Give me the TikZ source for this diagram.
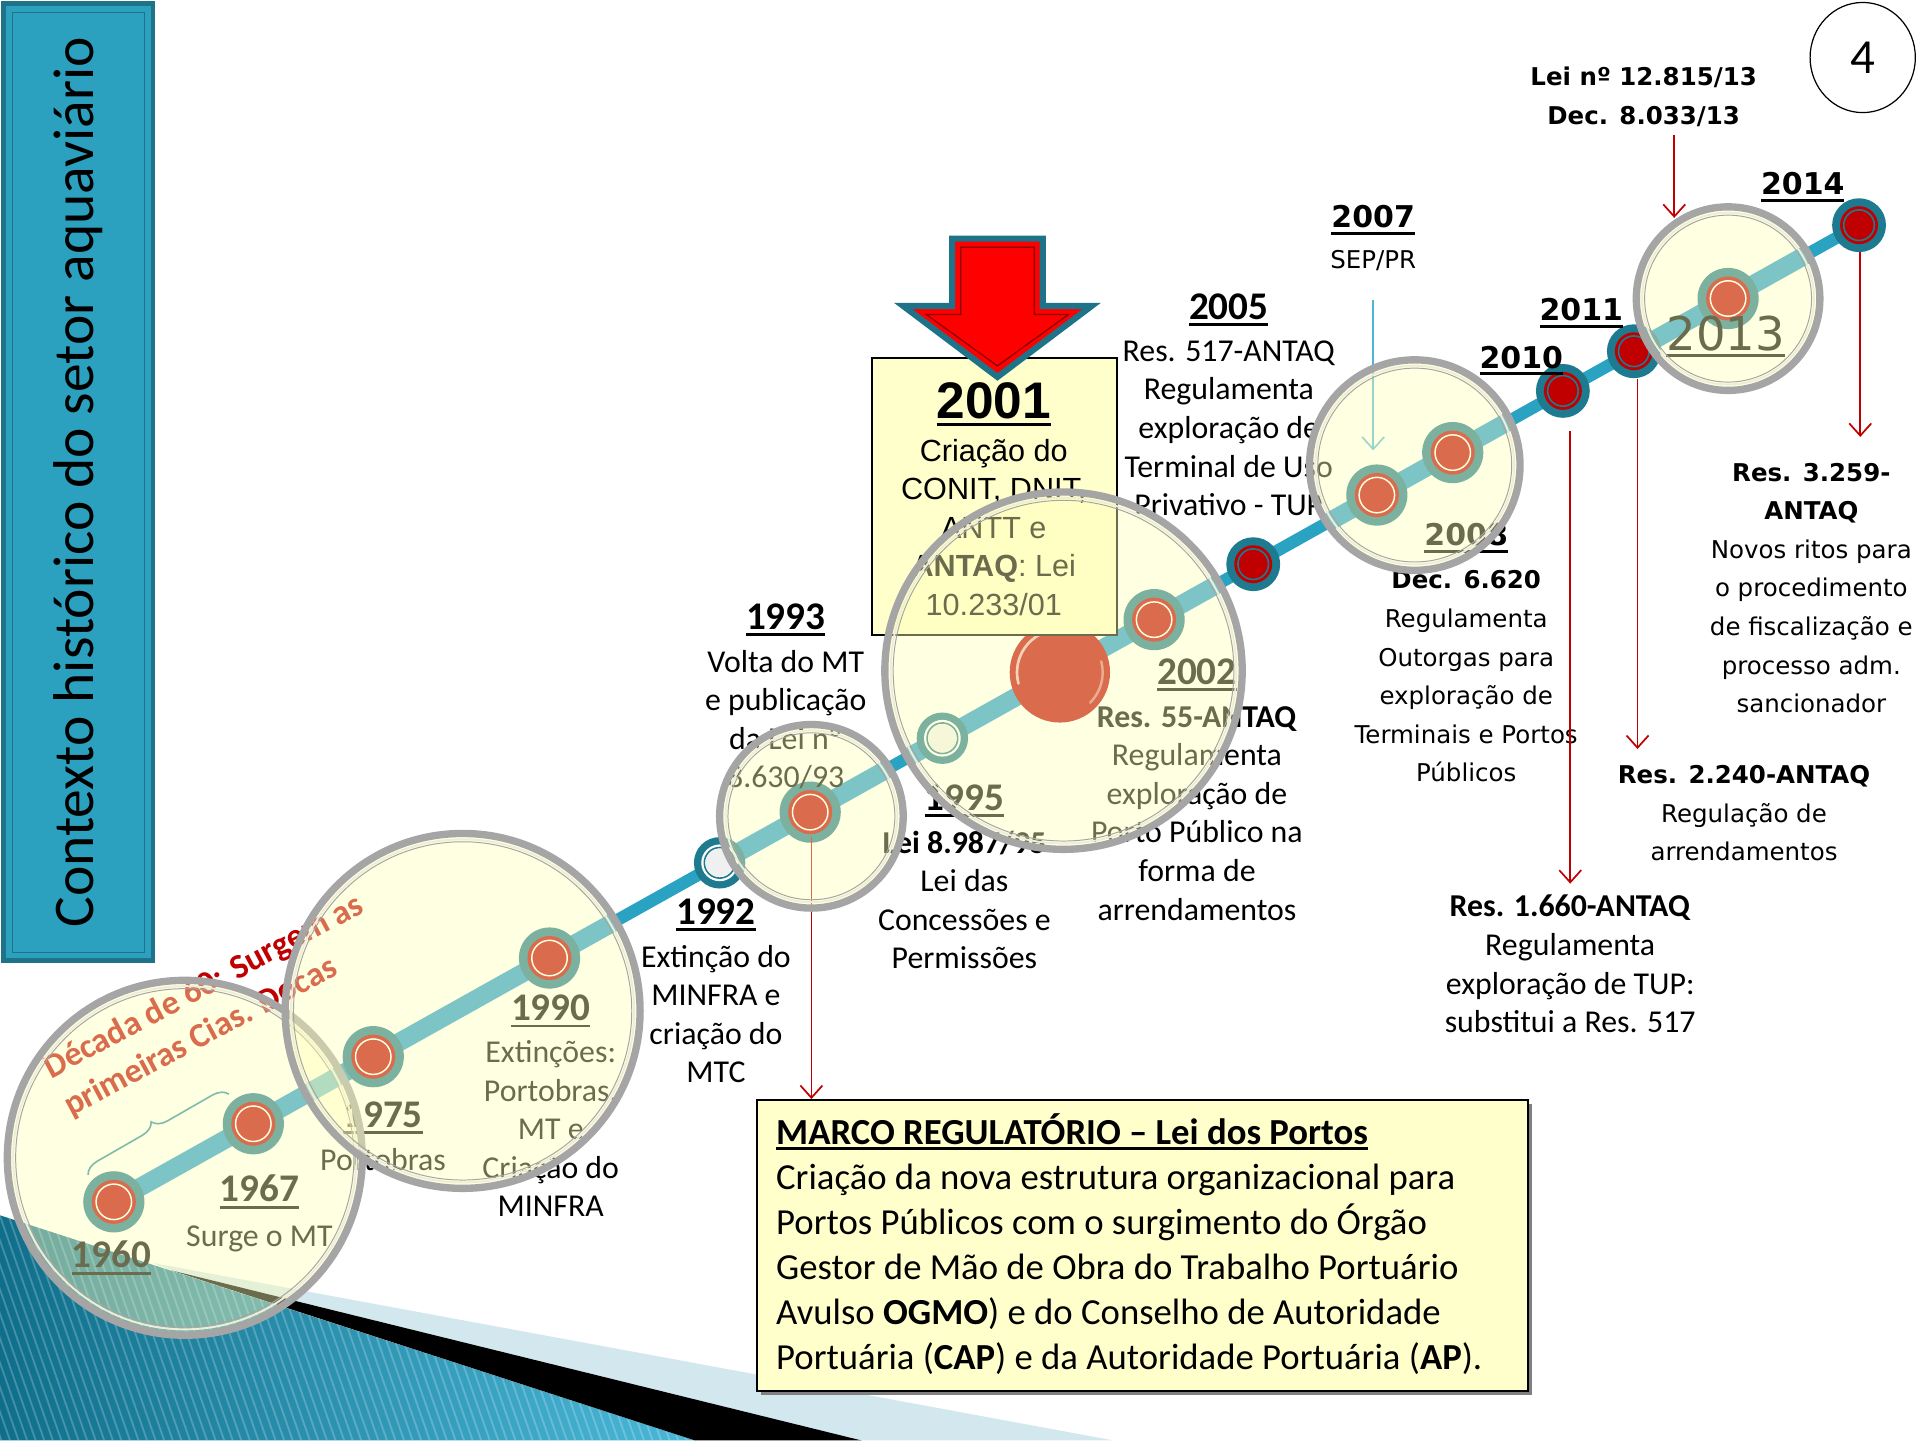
\documentclass[tikz,border=0pt]{standalone}
\usepackage{fontspec}
\setmainfont{Carlito}
\newfontfamily\arialf{Liberation Sans}
\newfontfamily\verd{DejaVu Sans}
\usetikzlibrary{arrows.meta,decorations.pathreplacing,shapes.geometric}
\definecolor{teal1}{HTML}{2AA3C2}
\definecolor{teallens}{HTML}{1E9AD0}
\definecolor{tealdk}{HTML}{1E7A8E}
\definecolor{dred}{HTML}{C00000}
\definecolor{lensfill}{HTML}{FFFFB8}
\definecolor{lensring}{HTML}{A5A5A5}
\definecolor{lensin}{HTML}{EEEED8}
\definecolor{boxy}{HTML}{FFFFCC}
\definecolor{titlebg}{HTML}{2BA0BF}
\definecolor{titlebd}{HTML}{1F7389}
\definecolor{pale}{HTML}{D3E7EE}
\definecolor{arrowblue}{HTML}{4DB6D6}
\definecolor{bandL}{HTML}{0F6F8B}
\definecolor{bandR}{HTML}{4BB8D8}
\newcommand\uln[2][3]{\vtop{\hbox{#2}\kern#1pt\hrule height 2.3pt}}
\newcommand\drawlens[2]{%
  \fill[lensfill,fill opacity=0.42] (#1) circle (#2);
  \draw[lensring,line width=6] (#1) circle (#2);
  \draw[lensin,line width=1.6] (#1) circle ({#2-4.8});
  \draw[lensring,line width=0.8] (#1) circle ({#2-6.8});
}
\newcommand\lensline[2]{%
  \begin{scope}\clip (#1) circle (#2);
  \draw[teallens,line width=15] (d1960) -- (d2014);
  \end{scope}
}
\tikzset{
  tdot/.pic={\fill[tealdk] (0,0) circle (22); \fill[dred] (0,0) circle (15.5); \draw[tealdk,line width=1.3] (0,0) circle (12.5);},
  mdot/.pic={\fill[tealdk] (0,0) circle (25); \fill[dred] (0,0) circle (18); \draw[white,line width=1.2] (0,0) circle (14.5);},
  wdot/.pic={\fill[tealdk] (0,0) circle (21); \fill[white] (0,0) circle (15); \draw[tealdk,line width=1.3] (0,0) circle (12.5); \fill[black!6] (0,0) circle (11.5);},
}
\begin{document}
\begin{tikzpicture}[x=1pt,y=-1pt,
  calt/.style={inner sep=0, align=center, anchor=north, font=\fontsize{26}{31.5}\selectfont},
  vert/.style={inner sep=0, align=center, anchor=north, font=\verd\fontsize{20}{31.5}\selectfont},
  arlt/.style={inner sep=0, align=center, anchor=north, font=\arialf\fontsize{25}{31.5}\selectfont},
  yc/.style={inner sep=0, anchor=base, font=\fontsize{32}{38}\selectfont\bfseries},
  yv/.style={inner sep=0, anchor=base, font=\verd\fontsize{24.5}{30}\selectfont\bfseries},
  redarr/.style={draw=dred, line width=1.4, -{Straight Barb[length=10pt,width=18pt]}},
  bluearr/.style={draw=arrowblue, line width=1.3, -{Straight Barb[length=10pt,width=18pt]}},
]
\useasboundingbox (0,0) rectangle (1568,1177);
\fill[white] (0,0) rectangle (1568,1177);

% ---- bottom decoration
\fill[pale] (125,1032) -- (910,1177) -- (704,1177) -- (140,1038) -- cycle;
\shade[left color=bandL, right color=bandR] (0,993) -- (568,1177) -- (0,1177) -- cycle;
\begin{scope}
  \clip (0,993) -- (568,1177) -- (0,1177) -- cycle;
  \foreach \k in {0,...,95} \draw[white, opacity=0.22, line width=1.5] ({\k*7-80},985) -- ++(70,200);
\end{scope}
\fill[black] (140,1038) -- (704,1177) -- (568,1177) -- cycle;

% ---- title
\node[draw=titlebd, line width=4, fill=titlebg, minimum width=782, minimum height=122, rotate=90, inner sep=0,
      font=\fontsize{47}{56}\selectfont] (title) at (64,394) {Contexto histórico do setor aquaviário};
\draw[titlebd, line width=1] (10,10) rectangle (118,778);

% ---- page number
\node[draw, ellipse, line width=1, minimum width=86, minimum height=90, inner sep=0,
      font=\fontsize{40}{48}\selectfont] (pg) at (1522,47) {4};

% ---- timeline coordinates
\coordinate (d1960) at (93,982);
\coordinate (d1967) at (207,918.2);
\coordinate (d1975) at (305,863.4);
\coordinate (d1990) at (449,782.8);
\coordinate (d1992) at (588,705);
\coordinate (d1993) at (662,663.6);
\coordinate (d1995) at (770,603.2);
\coordinate (d2001) at (866,549.4);
\coordinate (d2002) at (943,506.3);
\coordinate (d2005) at (1024,461);
\coordinate (d2007) at (1125,404.5);
\coordinate (d2008) at (1187,369.8);
\coordinate (d2010) at (1277,319.4);
\coordinate (d2011) at (1335,287);
\coordinate (d2013) at (1412,243.9);
\coordinate (d2014) at (1519,184);
\coordinate (LA) at (151,946);
\coordinate (LB) at (378,826);
\coordinate (LC) at (663,667);
\coordinate (LD) at (869,548);
\coordinate (LE) at (1156,380);
\coordinate (LF) at (1412,244);

\draw[teal1, line width=10] (d1960) -- (d2014);
\lensline{LA}{145}
\lensline{LB}{145}
\lensline{LC}{75}
\lensline{LD}{146}
\lensline{LE}{86}
\lensline{LF}{75}

% ---- dots
\pic at (d1960) {mdot};
\pic at (d1967) {mdot};
\pic at (d1975) {mdot};
\pic at (d1990) {mdot};
\pic at (d1992) {wdot};
\pic at (d1993) {mdot};
\pic at (d1995) {wdot};
\fill[dred] (d2001) circle (41);
\draw[white, opacity=0.7, line width=2.2, line cap=round] ([shift={(165:35)}]d2001) arc[start angle=165, end angle=245, radius=35];
\draw[white, opacity=0.45, line width=2, line cap=round] ([shift={(345:35)}]d2001) arc[start angle=345, end angle=405, radius=35];
\pic at (d2002) {mdot};
\pic at (d2005) {tdot};
\pic at (d2007) {mdot};
\pic at (d2008) {mdot};
\pic at (d2010) {tdot};
\pic at (d2011) {tdot};
\pic at (d2013) {mdot};
\pic at (d2014) {tdot};

% ---- 2001 box
\node[draw=black, line width=1.3, fill=boxy, minimum width=200, minimum height=226, inner sep=0, anchor=north west] (box01) at (712,292) {};
\node[inner sep=0, anchor=base, font=\arialf\fontsize{42}{48}\selectfont\bfseries] (y2001) at (812,342) {\uln[3]{2001}};
\node[arlt] (t2001) at (812,354.5) {\strut Criação do\\CONIT, DNIT,\\ANTT e\\\textbf{ANTAQ}: Lei\\10.233/01};
\filldraw[fill=red, draw=titlebd, line width=5, line join=miter] (778,195) -- (852,195) -- (852,250) -- (892,250) -- (815,308) -- (738,250) -- (778,250) -- cycle;
\draw[dred!70!black, line width=1] (785,202) -- (845,202) -- (845,257) -- (873,257) -- (815,299) -- (757,257) -- (785,257) -- cycle;

% ---- year labels (Calibri)
\node[yc] (y1960) at (91,1036) {\uln{1960}};
\node[yc] (y1967) at (212,982) {\uln{1967}};
\node[yc] (y1975) at (313,921) {\uln{1975}};
\node[yc] (y1990) at (450,834) {\uln{1990}};
\node[yc] (y1992) at (585,755) {\uln{1992}};
\node[yc] (y1993) at (642,514) {\uln{1993}};
\node[yc] (y1995) at (788,662) {\uln{1995}};
\node[yc] (y2002) at (978,559) {\uln{2002}};
\node[yc] (y2005) at (1004,261) {\uln{2005}};
% ---- year labels (Verdana-like)
\node[yv] (y2007) at (1122,186) {\uln{2007}};
\node[yv] (y2008) at (1198,446) {\uln{2008}};
\node[yv] (y2010) at (1243,301) {\uln{2010}};
\node[yv] (y2011) at (1292,262) {\uln{2011}};
\node[yv] (y2014) at (1473,159) {\uln{2014}};
\node[inner sep=0, anchor=base, font=\verd\fontsize{38}{44}\selectfont] (y2013) at (1410,286) {\uln{2013}};

% ---- texts
\node[calt] (t1967) at (212,996) {\strut Surge o MT};
\node[calt] (t1975) at (313,934) {\strut Portobras};
\node[calt] (t1990) at (450,846) {\strut Extinções:\\Portobras,\\MT e\\Criação do\\MINFRA};
\node[calt] (t1992) at (585,768) {\strut Extinção do\\MINFRA e\\criação do\\MTC};
\node[calt] (t1993) at (642,527) {\strut Volta do MT\\e publicação\\da Lei nº\\8.630/93};
\node[calt] (t1995) at (788,675) {\strut\textbf{Lei 8.987/95}\\Lei das\\Concessões e\\Permissões};
\node[calt] (t2002) at (978,572) {\strut\textbf{Res. 55-ANTAQ}\\Regulamenta\\exploração de\\Porto Público na\\forma de\\arrendamentos};
\node[calt] (t2005) at (1004,273) {\strut Res. 517-ANTAQ\\Regulamenta\\exploração de\\Terminal de Uso\\Privativo - TUP};
\node[calt] (t1660) at (1283,727) {\strut\textbf{Res. 1.660-ANTAQ}\\Regulamenta\\exploração de TUP:\\substitui a Res. 517};
\node[vert] (tsep) at (1122,197) {\strut SEP/PR};
\node[vert] (t2008) at (1198,459) {\strut\textbf{Dec. 6.620}\\Regulamenta\\Outorgas para\\exploração de\\Terminais e Portos\\Públicos};
\node[vert] (t2240) at (1425,618) {\strut\textbf{Res. 2.240-ANTAQ}\\Regulação de\\arrendamentos};
\node[vert] (t3259) at (1480,371) {\strut\textbf{Res. 3.259-}\\\textbf{ANTAQ}\\Novos ritos para\\o procedimento\\de fiscalização e\\processo adm.\\sancionador};
\node[inner sep=0, align=center, anchor=north, font=\verd\fontsize{20}{32}\selectfont\bfseries] (tlei) at (1343,47) {\strut Lei nº 12.815/13\\Dec. 8.033/13};

% ---- MARCO box
\fill[black!50] (622,902) rectangle (1252,1140);
\node[draw=black, line width=1.4, fill=boxy, minimum width=630, minimum height=238, inner sep=0, anchor=north west] (marco) at (618,898) {};
\node[anchor=north west, inner sep=0, align=left, font=\fontsize{30}{36.8}\selectfont] (marcotxt) at (634,909)
 {\strut\uln[2]{\textbf{MARCO REGULATÓRIO – Lei dos Portos}}\\
  Criação da nova estrutura organizacional para\\
  Portos Públicos com o surgimento do Órgão\\
  Gestor de Mão de Obra do Trabalho Portuário\\
  Avulso \textbf{OGMO}) e do Conselho de Autoridade\\
  Portuária (\textbf{CAP}) e da Autoridade Portuária (\textbf{AP}).};

% ---- arrows
\coordinate (a93s) at (663,684);
\draw[redarr] (a93s) -- (a93s |- marco.north);
\coordinate (a10s) at (1283,352);
\draw[redarr, shorten >=5pt] (a10s) -- (a10s |- t1660.north);
\coordinate (a11s) at (1338,310);
\draw[redarr, shorten >=6pt] (a11s) -- (a11s |- t2240.north);
\coordinate (a14s) at (1520,206);
\draw[redarr, shorten >=14pt] (a14s) -- (a14s |- t3259.north);
\coordinate (a13s) at (1368,110);
\coordinate (a13e) at (1368,178);
\draw[redarr] (a13s) -- (a13e);
\coordinate (a07s) at (1122,245);
\coordinate (a07e) at (1122,368);
\draw[bluearr] (a07s) -- (a07e);

% ---- decade text and brace
\node[rotate=28, align=left, text=dred, inner sep=0, font=\fontsize{28}{35}\selectfont\bfseries] (decade) at (175,822)
  {Década de 60: Surgem as\\primeiras Cias. Docas};
\draw[teal1!85!black, line width=1.3, decorate, decoration={brace, amplitude=12pt}] (72,960) -- (187,894);

% ---- lenses
\drawlens{LA}{145}
\drawlens{LB}{145}
\drawlens{LC}{75}
\drawlens{LD}{146}
\drawlens{LE}{86}
\drawlens{LF}{75}
\end{tikzpicture}
\end{document}
